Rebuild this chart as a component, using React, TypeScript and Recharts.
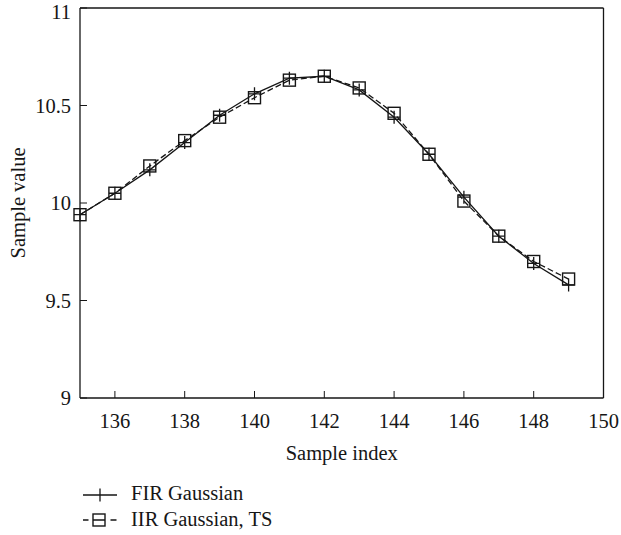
import React from "react"
import { LineChart, Line, XAxis, YAxis } from "recharts"

// sample index on the x axis
const sampleIndex = [135, 136, 137, 138, 139, 140, 141, 142, 143, 144, 145, 146, 147, 148, 149]
// FIR Gaussian output
const firGaussian = [9.94, 10.05, 10.17, 10.31, 10.45, 10.56, 10.64, 10.65, 10.58, 10.44, 10.25, 10.03, 9.83, 9.69, 9.58]
// IIR Gaussian, TS output
const iirGaussian = [9.94, 10.05, 10.19, 10.32, 10.44, 10.54, 10.63, 10.65, 10.59, 10.46, 10.25, 10.01, 9.83, 9.7, 9.61]

const xTicks = [136, 138, 140, 142, 144, 146, 148, 150]
const yTicks = [9, 9.5, 10, 10.5, 11]

const data = sampleIndex.map((x, i) => ({ x, fir: firGaussian[i], iir: iirGaussian[i] }))

const INK = "#161616"
const FONT = "'Liberation Serif', serif"
const tickStyle = { fontSize: 20.5, fill: INK, fontFamily: FONT }

const PlusDot = (props: any) => {
  const { cx, cy, index } = props
  if (cx == null || cy == null) return null
  return (
    <path
      key={`fir-${index}`}
      d={`M${cx - 6},${cy}h12M${cx},${cy - 6.5}v13`}
      stroke={INK}
      strokeWidth={1.3}
      fill="none"
    />
  )
}

const SquareDot = (props: any) => {
  const { cx, cy, index } = props
  if (cx == null || cy == null) return null
  return (
    <rect
      key={`iir-${index}`}
      x={cx - 6}
      y={cy - 6}
      width={12}
      height={12}
      stroke={INK}
      strokeWidth={1.4}
      fill="none"
    />
  )
}

const LegendBox = () => (
  <svg width={621} height={535} style={{ position: "absolute", left: 0, top: 0, pointerEvents: "none" }}>
    <g stroke={INK} fill="none" strokeWidth={1.3}>
      <path d="M83,495h34M100,488.5v13" />
      <path d="M83,520h5.5M110.5,520h6M93,520h12" />
      <rect x={93} y={514} width={12} height={12} strokeWidth={1.4} />
    </g>
    <text x={131} y={500} style={tickStyle}>
      FIR Gaussian
    </text>
    <text x={131} y={526} style={tickStyle}>
      IIR Gaussian, TS
    </text>
  </svg>
)

export default function App() {
  return (
    <div
      style={{
        position: "absolute",
        left: 0,
        top: 0,
        width: 621,
        height: 535,
        background: "#fff",
        fontFamily: FONT,
      }}
    >
      <LineChart width={621} height={535} data={data} margin={{ top: 7, right: 16.5, bottom: 72, left: 18 }}>
        <XAxis
          dataKey="x"
          type="number"
          domain={[135, 150]}
          ticks={xTicks}
          height={65}
          tickSize={-7}
          tickMargin={22}
          tick={tickStyle}
          stroke={INK}
          axisLine={{ stroke: INK, strokeWidth: 1.3 }}
          label={{ value: "Sample index", position: "insideBottom", offset: 3, style: tickStyle }}
        />
        <XAxis
          xAxisId="top"
          orientation="top"
          dataKey="x"
          type="number"
          domain={[135, 150]}
          ticks={xTicks}
          height={1}
          tickSize={-7}
          tick={false}
          stroke={INK}
          axisLine={{ stroke: INK, strokeWidth: 1.3 }}
        />
        <YAxis
          type="number"
          domain={[9, 11]}
          ticks={yTicks}
          width={62}
          tickSize={-7}
          tickMargin={16}
          tick={tickStyle}
          stroke={INK}
          axisLine={{ stroke: INK, strokeWidth: 1.3 }}
          label={{
            value: "Sample value",
            angle: -90,
            position: "insideLeft",
            offset: 0,
            style: { ...tickStyle, textAnchor: "middle" },
          }}
        />
        <YAxis
          yAxisId="right"
          orientation="right"
          type="number"
          domain={[9, 11]}
          ticks={yTicks}
          width={1}
          tickSize={-7}
          tick={false}
          stroke={INK}
          axisLine={{ stroke: INK, strokeWidth: 1.3 }}
        />
        <Line
          type="linear"
          dataKey="fir"
          stroke={INK}
          strokeWidth={1.3}
          dot={PlusDot}
          activeDot={false}
          isAnimationActive={false}
        />
        <Line
          type="linear"
          dataKey="iir"
          stroke={INK}
          strokeWidth={1.3}
          strokeDasharray="6 3"
          dot={SquareDot}
          activeDot={false}
          isAnimationActive={false}
        />
      </LineChart>
      <LegendBox />
    </div>
  )
}
